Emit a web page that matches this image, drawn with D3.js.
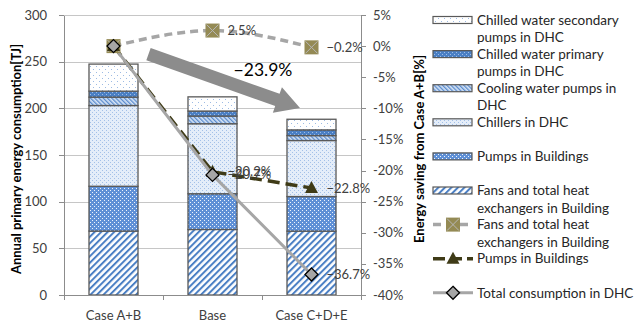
<!DOCTYPE html>
<html>
<head>
<meta charset="utf-8">
<script src="https://cdn.jsdelivr.net/npm/d3@7"></script>
<style>
  html, body { margin: 0; padding: 0; background: #fff; }
  svg { display: block; }
  text { font-family: Lato, "Open Sans", sans-serif; }
</style>
</head>
<body>
<svg id="chart" width="634" height="323"></svg>
<script>
// Cases compared
const categories = ["Case A+B", "Base", "Case C+D+E"];

// Annual primary energy consumption [TJ], stacked from bottom to top
const fansHex      = [68.5, 70.2, 68.4];
const pumpsBldg    = [48.0, 38.3, 37.1];
const chillers     = [86.5, 75.0, 60.0];
const coolingPumps = [9.0, 8.2, 5.3];
const primaryPumps = [6.4, 5.4, 6.1];
const secondaryPumps = [29.0, 15.2, 11.4];

// Energy saving from Case A+B [%]
const savingFans  = [0, 2.5, -0.2];
const savingPumps = [0, -20.2, -22.8];
const savingDHC   = [0, -20.7, -36.7];

// Axis ticks
const leftTicks  = [0, 50, 100, 150, 200, 250, 300];
const rightTicks = [5, 0, -5, -10, -15, -20, -25, -30, -35, -40];

const svg = d3.select("#chart");
const plot = { left: 64, right: 361, top: 15, bottom: 295 };

const x = d3.scaleBand().domain(categories).range([plot.left, plot.right])
  .paddingInner(0.505).paddingOuter(0.2525);
const xc = c => x(c) + x.bandwidth() / 2;
const yL = d3.scaleLinear().domain([0, 300]).range([plot.bottom, plot.top]);
const yR = d3.scaleLinear().domain([-40, 5]).range([plot.bottom, plot.top]);

// ---------- fill patterns ----------
const defs = svg.append("defs");
function pat(id, w, h, bg, dots, transform) {
  const p = defs.append("pattern").attr("id", id)
    .attr("patternUnits", "userSpaceOnUse").attr("width", w).attr("height", h);
  if (transform) p.attr("patternTransform", transform);
  p.append("rect").attr("width", w).attr("height", h).attr("fill", bg);
  dots.forEach(d => p.append("rect").attr("x", d[0]).attr("y", d[1])
    .attr("width", d[2]).attr("height", d[3]).attr("fill", d[4]));
}
// fans: blue diagonal stripes
pat("pFans", 4.6, 4.6, "#ffffff", [[0, 0, 2, 4.6, "#4a7fc4"]], "rotate(45)");
// pumps in buildings: blue with a regular grid of light dots
pat("pPumps", 4, 4, "#5f90d6", [[0, 0, 1, 1, "#eef4fc"], [2, 2, 1, 1, "#eef4fc"]]);
// chillers: very light dotted
pat("pChill", 4, 4, "#e4edf9", [[0, 0, 1, 1, "#a3c0e8"], [2, 2, 1, 1, "#a3c0e8"]]);
// cooling water pumps: fine diagonal hatch
pat("pCool", 3, 3, "#d6e4f6", [[0, 0, 1.3, 3, "#5a8bcd"]], "rotate(-45)");
// chilled water primary pumps: dark blue with light dots
pat("pPrim", 4, 4, "#4a7fc4", [[0, 0, 1, 1, "#9dbde8"], [2, 2, 1, 1, "#9dbde8"]]);
// chilled water secondary pumps: white with sparse dots
pat("pSec", 6, 6, "#ffffff", [[0, 0, 1, 1, "#9dbbe4"], [3, 3, 1, 1, "#9dbbe4"]]);

const barSeries = [
  { key: "fans", name: ["Fans and total heat", "exchangers in Building"], values: fansHex, fill: "url(#pFans)" },
  { key: "pumps", name: ["Pumps in Buildings"], values: pumpsBldg, fill: "url(#pPumps)" },
  { key: "chill", name: ["Chillers in DHC"], values: chillers, fill: "url(#pChill)" },
  { key: "cool", name: ["Cooling water pumps in", "DHC"], values: coolingPumps, fill: "url(#pCool)" },
  { key: "prim", name: ["Chilled water primary", "pumps in DHC"], values: primaryPumps, fill: "url(#pPrim)" },
  { key: "sec", name: ["Chilled water secondary", "pumps in DHC"], values: secondaryPumps, fill: "url(#pSec)" }
];

const table = categories.map((c, i) => {
  const row = { cat: c };
  barSeries.forEach(s => row[s.key] = s.values[i]);
  return row;
});
const stacked = d3.stack().keys(barSeries.map(s => s.key))(table);

// ---------- gridlines & axes ----------
const gridColor = "#c6c6c6";
const axisColor = "#8c8c8c";
const tickText = "#404040";

svg.append("g").selectAll("line").data(leftTicks.filter(t => t > 0)).join("line")
  .attr("x1", plot.left).attr("x2", plot.right)
  .attr("y1", d => Math.round(yL(d)) + 0.5).attr("y2", d => Math.round(yL(d)) + 0.5)
  .attr("stroke", gridColor).attr("stroke-width", 1);

// ---------- bars ----------
const barG = svg.append("g");
stacked.forEach((layer, li) => {
  barG.append("g").selectAll("rect").data(layer).join("rect")
    .attr("x", d => x(d.data.cat))
    .attr("width", x.bandwidth())
    .attr("y", d => yL(d[1]))
    .attr("height", d => yL(d[0]) - yL(d[1]))
    .attr("fill", barSeries[li].fill)
    .attr("stroke", "#595959").attr("stroke-width", 1.3);
});

// left axis
const gL = svg.append("g");
gL.append("line").attr("x1", plot.left + 0.5).attr("x2", plot.left + 0.5)
  .attr("y1", plot.top).attr("y2", plot.bottom).attr("stroke", axisColor);
gL.selectAll(".tk").data(leftTicks).join("line")
  .attr("x1", plot.left - 5).attr("x2", plot.left)
  .attr("y1", d => Math.round(yL(d)) + 0.5).attr("y2", d => Math.round(yL(d)) + 0.5)
  .attr("stroke", axisColor);
gL.selectAll("text").data(leftTicks).join("text")
  .attr("x", 47).attr("y", d => yL(d)).attr("dy", "0.35em")
  .attr("text-anchor", "end").attr("font-size", 13).attr("fill", tickText)
  .text(d => d);

// bottom axis
const gB = svg.append("g");
gB.append("line").attr("x1", plot.left).attr("x2", plot.right)
  .attr("y1", plot.bottom + 0.5).attr("y2", plot.bottom + 0.5).attr("stroke", axisColor);
const bounds = [plot.left].concat(categories.map(c => x(c) + x.bandwidth() + x.step() * x.paddingInner() / 2));
gB.selectAll(".tk").data(bounds).join("line")
  .attr("x1", d => Math.round(d) + 0.5).attr("x2", d => Math.round(d) + 0.5)
  .attr("y1", plot.bottom).attr("y2", plot.bottom + 5).attr("stroke", axisColor);
gB.selectAll("text").data(categories).join("text")
  .attr("x", d => xc(d)).attr("y", 315).attr("dy", "0.35em")
  .attr("text-anchor", "middle").attr("font-size", 13).attr("fill", tickText)
  .text(d => d);

// right axis
const gR = svg.append("g");
gR.append("line").attr("x1", plot.right + 0.5).attr("x2", plot.right + 0.5)
  .attr("y1", plot.top).attr("y2", plot.bottom).attr("stroke", axisColor);
gR.selectAll(".tk").data(rightTicks).join("line")
  .attr("x1", plot.right).attr("x2", plot.right + 5)
  .attr("y1", d => Math.round(yR(d)) + 0.5).attr("y2", d => Math.round(yR(d)) + 0.5)
  .attr("stroke", axisColor);
gR.selectAll("text").data(rightTicks).join("text")
  .attr("x", 373).attr("y", d => yR(d)).attr("dy", "0.35em")
  .attr("text-anchor", "start").attr("font-size", 13).attr("fill", tickText)
  .text(d => d + "%");

// top border
svg.append("line").attr("x1", plot.left).attr("x2", plot.right)
  .attr("y1", plot.top + 0.5).attr("y2", plot.top + 0.5).attr("stroke", gridColor);

// axis titles
const midY = (plot.top + plot.bottom) / 2;
svg.append("text").attr("transform", `translate(16,${midY + 4}) rotate(-90)`)
  .attr("text-anchor", "middle").attr("dy", "0.35em")
  .attr("font-size", 13).attr("font-weight", "bold").attr("fill", "#000")
  .text("Annual primary energy consumption[TJ]");
svg.append("text").attr("transform", `translate(419,${midY - 6}) rotate(-90)`)
  .attr("text-anchor", "middle").attr("dy", "0.35em")
  .attr("font-size", 13).attr("font-weight", "bold").attr("fill", "#000")
  .text("Energy saving from Case A+B[%]");

// ---------- overall reduction arrow ----------
const totals = table.map(r => d3.sum(barSeries, s => r[s.key]));
const overall = (totals[2] / totals[0] - 1) * 100;
const tail = [xc(categories[0]) + 35, yR(-1.27)];
const tip = [xc(categories[2]) - 11.5, yR(-9.95)];
(function drawArrow() {
  const dx = tip[0] - tail[0], dy = tip[1] - tail[1];
  const len = Math.hypot(dx, dy);
  const ux = dx / len, uy = dy / len, nx = -uy, ny = ux;
  const sw = 6.5, hw = 13.5, hl = 24;
  const bx = tip[0] - ux * hl, by = tip[1] - uy * hl;
  const pts = [
    [tail[0] + nx * sw, tail[1] + ny * sw],
    [bx + nx * sw, by + ny * sw],
    [bx + nx * hw, by + ny * hw],
    tip,
    [bx - nx * hw, by - ny * hw],
    [bx - nx * sw, by - ny * sw],
    [tail[0] - nx * sw, tail[1] - ny * sw]
  ];
  svg.append("path").attr("d", "M" + pts.map(p => p.join(",")).join("L") + "Z")
    .attr("fill", "#8c8c8c");
})();
svg.append("text").attr("x", 263).attr("y", yR(-3.8)).attr("dy", "0.35em")
  .attr("text-anchor", "middle").attr("font-family", "'Liberation Sans', Arial, sans-serif")
  .attr("font-size", 17.5).attr("fill", "#000")
  .text(d3.format(".1f")(overall) + "%");

// ---------- saving lines ----------
const lineG = svg.append("g");
const pts = vals => categories.map((c, i) => [xc(c), yR(vals[i])]);

const fansColor = "#a6a6a6", fansMarker = "#948a54";
const pumpsColor = "#3f3b17";
const dhcColor = "#a6a6a6";

lineG.append("path").attr("d", d3.line().curve(d3.curveMonotoneX)(pts(savingFans)))
  .attr("fill", "none").attr("stroke", fansColor).attr("stroke-width", 3.5)
  .attr("stroke-dasharray", "8,5");
lineG.append("path").attr("d", d3.line()(pts(savingPumps)))
  .attr("fill", "none").attr("stroke", pumpsColor).attr("stroke-width", 3.5)
  .attr("stroke-dasharray", "12,6");
lineG.append("path").attr("d", d3.line()(pts(savingDHC)))
  .attr("fill", "none").attr("stroke", dhcColor).attr("stroke-width", 3);

function squareMarker(g, cx, cy) {
  g.append("rect").attr("x", cx - 7).attr("y", cy - 7).attr("width", 14).attr("height", 14)
    .attr("fill", fansMarker);
  g.append("path").attr("d", `M${cx - 6},${cy - 6}L${cx + 6},${cy + 6}M${cx + 6},${cy - 6}L${cx - 6},${cy + 6}`)
    .attr("stroke", "#b8b8b8").attr("stroke-width", 1);
}
function triangleMarker(g, cx, cy) {
  g.append("path").attr("d", `M${cx},${cy - 7}L${cx + 6.5},${cy + 5}L${cx - 6.5},${cy + 5}Z`)
    .attr("fill", pumpsColor);
}
function diamondMarker(g, cx, cy) {
  g.append("path").attr("d", `M${cx},${cy - 6.5}L${cx + 6.5},${cy}L${cx},${cy + 6.5}L${cx - 6.5},${cy}Z`)
    .attr("fill", "#a6a6a6").attr("stroke", "#000").attr("stroke-width", 1.3);
}

pts(savingFans).forEach(p => squareMarker(lineG, p[0], p[1]));
pts(savingPumps).forEach(p => triangleMarker(lineG, p[0], p[1]));
pts(savingDHC).forEach(p => diamondMarker(lineG, p[0], p[1]));

// value labels (the reference case is not labelled)
const fmtPct = v => d3.format(".1f")(v) + "%";
[savingFans, savingPumps, savingDHC].forEach(vals => {
  categories.forEach((c, i) => {
    if (i === 0) return;
    lineG.append("text").attr("x", xc(c) + 15).attr("y", yR(vals[i])).attr("dy", "0.35em")
      .attr("font-size", 13).attr("fill", tickText).text(fmtPct(vals[i]));
  });
});

// ---------- legend ----------
const leg = svg.append("g");
const lx = 433, ltx = 477, ly0 = 20, lstep = 34.1, lline = 17.5;
const legendItems = barSeries.slice().reverse().map(s => ({ type: "bar", fill: s.fill, name: s.name }))
  .concat([
    { type: "fans", name: ["Fans and total heat", "exchangers in Building"] },
    { type: "pumps", name: ["Pumps in Buildings"] },
    { type: "dhc", name: ["Total consumption in DHC"] }
  ]);
legendItems.forEach((it, i) => {
  const cy = ly0 + i * lstep;
  if (it.type === "bar") {
    leg.append("rect").attr("x", lx).attr("y", cy - 3.5).attr("width", 39).attr("height", 7)
      .attr("fill", it.fill).attr("stroke", "#595959").attr("stroke-width", 1.2);
  } else if (it.type === "fans") {
    leg.append("line").attr("x1", lx).attr("x2", lx + 40).attr("y1", cy).attr("y2", cy)
      .attr("stroke", fansColor).attr("stroke-width", 3.5).attr("stroke-dasharray", "8,5.5");
    squareMarker(leg, lx + 20, cy);
  } else if (it.type === "pumps") {
    leg.append("line").attr("x1", lx).attr("x2", lx + 40).attr("y1", cy).attr("y2", cy)
      .attr("stroke", pumpsColor).attr("stroke-width", 3.5).attr("stroke-dasharray", "12,5");
    triangleMarker(leg, lx + 20, cy);
  } else {
    leg.append("line").attr("x1", lx).attr("x2", lx + 40).attr("y1", cy).attr("y2", cy)
      .attr("stroke", dhcColor).attr("stroke-width", 3);
    diamondMarker(leg, lx + 20, cy);
  }
  it.name.forEach((ln, j) => {
    leg.append("text").attr("x", ltx).attr("y", cy + j * lline).attr("dy", "0.35em")
      .attr("font-size", 13.5).attr("fill", "#262626").text(ln);
  });
});
</script>
</body>
</html>
